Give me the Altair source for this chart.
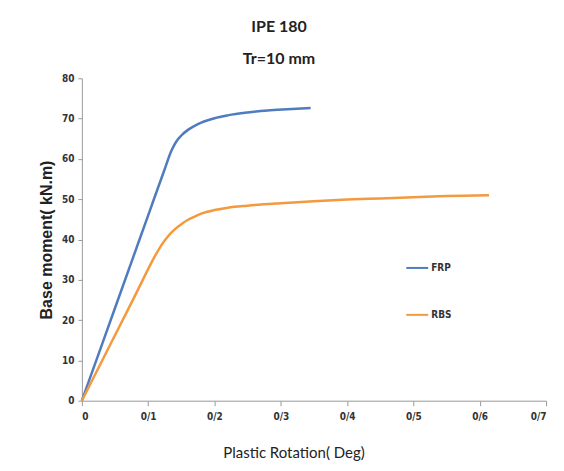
import altair as alt
import pandas as pd

frp_x = [0, 0.05, 0.1, 0.125, 0.135, 0.142, 0.15, 0.16, 0.17, 0.18, 0.19, 0.2, 0.22, 0.25, 0.28, 0.31, 0.345]
frp_y = [0, 23, 46, 57.5, 62, 64.2, 65.8, 67.2, 68.2, 69, 69.6, 70.1, 70.8, 71.5, 72, 72.3, 72.6]
rbs_x = [0, 0.04, 0.08, 0.11, 0.12, 0.13, 0.14, 0.15, 0.16, 0.17, 0.18, 0.2, 0.22, 0.25, 0.3, 0.35, 0.4, 0.45, 0.5, 0.55, 0.614]
rbs_y = [0, 13, 26, 35.8, 38.6, 40.8, 42.5, 43.8, 44.9, 45.7, 46.4, 47.3, 47.9, 48.4, 49, 49.5, 49.9, 50.2, 50.5, 50.8, 51]
series = ["FRP", "RBS"]
colors = ["#4F7CBF", "#F3993F"]

rows = []
for i, (x, y) in enumerate(zip(frp_x, frp_y)):
    rows.append({"s": "FRP", "x": x, "y": y, "o": i})
for i, (x, y) in enumerate(zip(rbs_x, rbs_y)):
    rows.append({"s": "RBS", "x": x, "y": y, "o": i})
df = pd.DataFrame(rows)

lab = "datum.value == 0 ? '0' : replace(format(datum.value, '.1f'), '.', '/')"
narrow = "DejaVu Sans Condensed"

chart = alt.Chart(df).mark_line(strokeWidth=2.5, interpolate="monotone").encode(
    x=alt.X("x:Q", scale=alt.Scale(domain=[0, 0.7], nice=False),
            axis=alt.Axis(values=[0, 0.1, 0.2, 0.3, 0.4, 0.5, 0.6, 0.7], labelExpr=lab,
                          title="Plastic Rotation( Deg)", grid=False,
                          domainColor="#9a9a9a", tickColor="#9a9a9a", tickSize=5,
                          labelFont=narrow, labelFontSize=10, labelFontWeight="bold",
                          labelColor="#333", labelPadding=6,
                          titleFont="Lato", titleFontSize=15, titleFontWeight="normal",
                          titleColor="#222", titlePadding=24, titleX=212)),
    y=alt.Y("y:Q", scale=alt.Scale(domain=[0, 80], nice=False),
            axis=alt.Axis(values=[0, 10, 20, 30, 40, 50, 60, 70, 80], grid=False,
                          title="Base moment( kN.m)",
                          domainColor="#9a9a9a", tickColor="#9a9a9a", tickSize=4,
                          labelFont=narrow, labelFontSize=10, labelFontWeight="bold",
                          labelColor="#333", labelPadding=4,
                          titleFont="Liberation Sans", titleFontSize=16, titleFontWeight="bold",
                          titleColor="#222", titlePadding=7)),
    color=alt.Color("s:N", scale=alt.Scale(domain=series, range=colors),
                    legend=alt.Legend(title=None, orient="none", legendX=324, legendY=178,
                                      symbolType="stroke", symbolSize=480, symbolStrokeWidth=2,
                                      rowPadding=30, labelFont=narrow,
                                      labelFontSize=10, labelFontWeight="bold", labelColor="#333",
                                      labelOffset=2)),
    order="o:Q",
).properties(
    width=465, height=323,
    autosize=alt.AutoSizeParams(type="none"),
    padding={"left": 74, "top": 70, "right": 10, "bottom": 60},
    title=alt.Title(["IPE 180", "Tr=10 mm"], font="Lato", fontSize=16,
                    fontWeight="bold", color="#222", lineHeight=32, anchor="middle", dx=-35, offset=6),
).configure_view(stroke=None)

chart.save("out.html", embed_options={"renderer": "svg", "actions": False})
